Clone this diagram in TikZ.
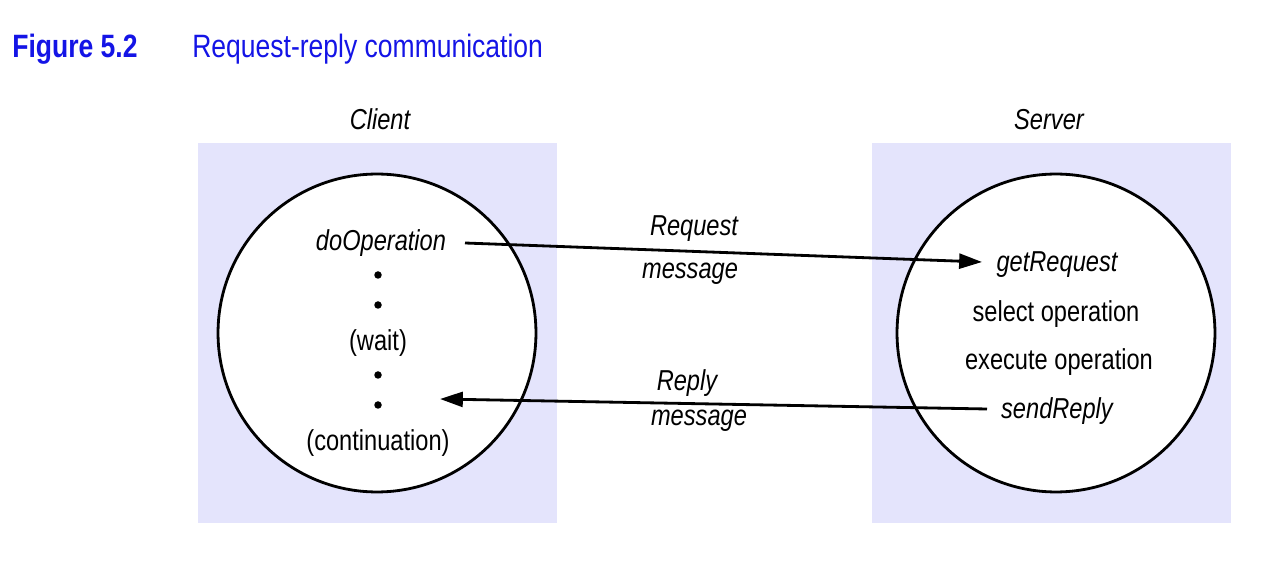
\documentclass[tikz,border=0pt]{standalone}
\usepackage{fontspec}
\setmainfont{Liberation Sans}[FakeStretch=0.82]
\usetikzlibrary{arrows.meta}
\definecolor{boxfill}{RGB}{228,228,252}
\definecolor{titleblue}{RGB}{20,20,230}

\begin{document}
\begin{tikzpicture}
[x=0.02cm,y=-0.02cm,
>={Triangle[length=13pt,width=8.5pt]},
txt/.style={inner sep=0pt, font=\fontsize{16.4}{19}\selectfont, text height=0.72em, text depth=0.2em},
itxt/.style={txt, font=\fontsize{16.4}{19}\selectfont\itshape},
proc/.style={draw, circle, line width=1.6pt, fill=white, minimum size=6.36cm, inner sep=0pt},
area/.style={fill=boxfill, draw=none},
dot/.style={circle, fill=black, inner sep=0pt, minimum size=0.15cm},
msg/.style={->, line width=1.6pt}]
  \useasboundingbox (0,0) rectangle (1276,587);
  % caption
  \node[anchor=west, inner sep=0pt, text=titleblue, font=\fontsize{18.4}{22}\selectfont\bfseries] (fignum) at (12,49) {Figure 5.2};
  \node[anchor=west, inner sep=0pt, text=titleblue, font=\fontsize{18.4}{22}\selectfont] (figtitle) at (192,49) {Request-reply communication};
  % the two sides
  \fill[area] (198,143) rectangle (557,523);
  \fill[area] (872,143) rectangle (1231,523);
  \node[itxt] (clientlbl) at (380,125) {Client};
  \node[itxt] (serverlbl) at (1049,125) {Server};
  \node[proc] (client) at (377,333) {};
  \node[proc] (server) at (1056,333) {};
  % client side
  \node[itxt] (doop) at (381,246) {doOperation};
  \node[dot] (d1) at (378,275) {};
  \node[dot] (d2) at (378,305) {};
  \node[txt] (wait) at (378,346) {(wait)};
  \node[dot] (d3) at (378,375) {};
  \node[dot] (d4) at (378,405) {};
  \node[txt] (cont) at (378,446) {(continuation)};
  % server side
  \node[itxt] (getreq) at (1057,267) {getRequest};
  \node[txt] (selop) at (1056,317) {select operation};
  \node[txt] (exop) at (1059,365) {execute operation};
  \node[itxt] (sendrep) at (1057,414) {sendReply};
  % messages
  \coordinate (reqA) at (465,243);
  \coordinate (reqB) at (982,262);
  \coordinate (repA) at (987,409);
  \coordinate (repB) at (440,399);
  \draw[msg] (reqA) -- (reqB);
  \draw[msg] (repA) -- (repB);
  \node[itxt] (reqlbl) at (694,231) {Request};
  \node[itxt] (reqmsg) at (690,274) {message};
  \node[itxt] (replbl) at (687,386) {Reply};
  \node[itxt] (repmsg) at (699,421) {message};
\end{tikzpicture}
\end{document}
